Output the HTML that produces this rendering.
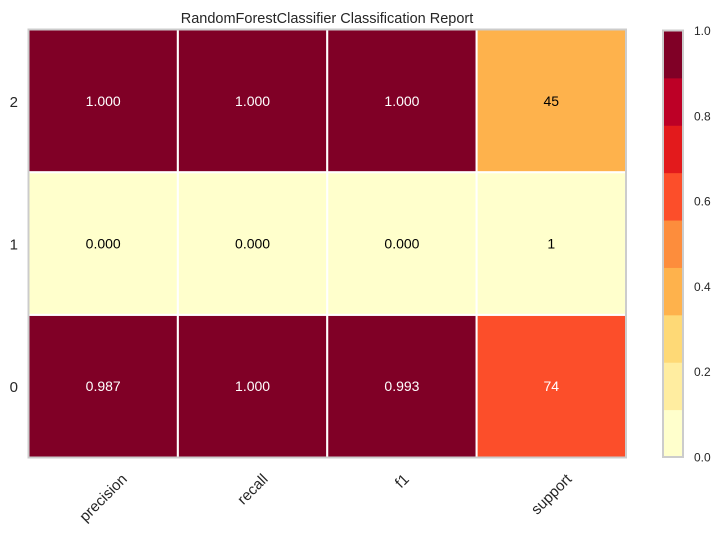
<!DOCTYPE html>
<html><head><meta charset="utf-8">
<style>
html,body{margin:0;padding:0;background:#fff;}
svg{display:block;font-family:"Liberation Sans","DejaVu Sans",sans-serif;}
</style></head>
<body>
<svg id="chart" width="722" height="534" viewBox="0 0 722 534">
<text x="327" y="23" font-size="14.5" text-anchor="middle" fill="#262626">RandomForestClassifier Classification Report</text>
<g id="cells"></g>
<rect x="28.5" y="29.5" width="597.5" height="428" fill="none" stroke="#cccccc" stroke-width="2"/>
<g id="xlabels"></g>
<g id="ylabels"></g>
<g id="colorbar"></g>
</svg>
<script>
const classes = ["0","1","2"];
const metrics = ["precision","recall","f1","support"];
const precision = [0.987, 0.000, 1.000];
const recall = [1.000, 0.000, 1.000];
const f1 = [0.993, 0.000, 1.000];
const support = [74, 1, 45];
const cbTicks = [0.0, 0.2, 0.4, 0.6, 0.8, 1.0];
const palette = ["#ffffcc","#ffeda0","#fed976","#feb24c","#fd8d3c","#fc4e2a","#e31a1c","#bd0026","#800026"];

const NS = "http://www.w3.org/2000/svg";
const X0 = 28.5, X1 = 626, Y0 = 29.5, Y1 = 457.5;
const cw = (X1 - X0) / metrics.length, ch = (Y1 - Y0) / classes.length;
const xPos = i => X0 + i * cw;
const yPos = r => Y1 - (r + 1) * ch;
function colorFor(v){ let b = Math.floor(v * palette.length); if (b >= palette.length) b = palette.length - 1; if (b < 0) b = 0; return palette[b]; }
function mk(tag, attrs, parent){ const e = document.createElementNS(NS, tag); for (const k in attrs) e.setAttribute(k, attrs[k]); parent.appendChild(e); return e; }

const totalSupport = support.reduce((a,b)=>a+b,0);
const cells = document.getElementById("cells");
const series = [precision, recall, f1, support];
classes.forEach((c, r) => {
  metrics.forEach((m, i) => {
    const raw = series[i][r];
    const v = m === "support" ? raw / totalSupport : raw;
    const col = colorFor(v);
    const rect = mk("rect", {x: xPos(i), y: yPos(r), width: cw, height: ch, fill: col, stroke: "#ffffff", "stroke-width": 2}, cells);
    
    
    const t = mk("text", {x: xPos(i) + cw/2, y: yPos(r) + ch/2 + 5, "text-anchor": "middle", "font-size": 14, fill: v > 0.5 ? "#ffffff" : "#000000"}, cells);
    t.textContent = m === "support" ? String(raw) : raw.toFixed(3);
    
    
  });
});

const yl = document.getElementById("ylabels");
classes.forEach((c, r) => {
  const t = mk("text", {x: 18, y: yPos(r) + ch/2 + 6, "text-anchor": "end", "font-size": 15, fill: "#262626"}, yl);
  t.textContent = c;
  
  
});

const xl = document.getElementById("xlabels");
metrics.forEach((m, i) => {
  const t = mk("text", {"text-anchor": "middle", "font-size": 15, fill: "#262626"}, xl);
  t.textContent = m;
  const L = t.getComputedTextLength();
  const cx = xPos(i) + cw/2, cy = 471 + (L * 0.707 + 11) / 2;
  t.setAttribute("x", cx); t.setAttribute("y", cy + 5);
  t.setAttribute("transform", "rotate(-45 " + cx + " " + cy + ")");
  
  
});

const cb = document.getElementById("colorbar");
const CX = 663, CW = 20, CY0 = 30.5, CY1 = 457;
const cbY = v => CY1 - v * (CY1 - CY0);
palette.forEach((col, k) => {
  const r = mk("rect", {x: CX, y: cbY((k+1)/palette.length), width: CW, height: (CY1-CY0)/palette.length + 0.5, fill: col}, cb);
  
  
});
const fr = mk("rect", {x: CX, y: CY0, width: CW, height: CY1-CY0, fill: "none", stroke: "#cccccc", "stroke-width": 2}, cb);


cbTicks.forEach(v => {
  const t = mk("text", {x: 694, y: cbY(v) + 4.5, "font-size": 12, fill: "#262626"}, cb);
  t.textContent = v.toFixed(1);
  
  
});
</script>
</body></html>
